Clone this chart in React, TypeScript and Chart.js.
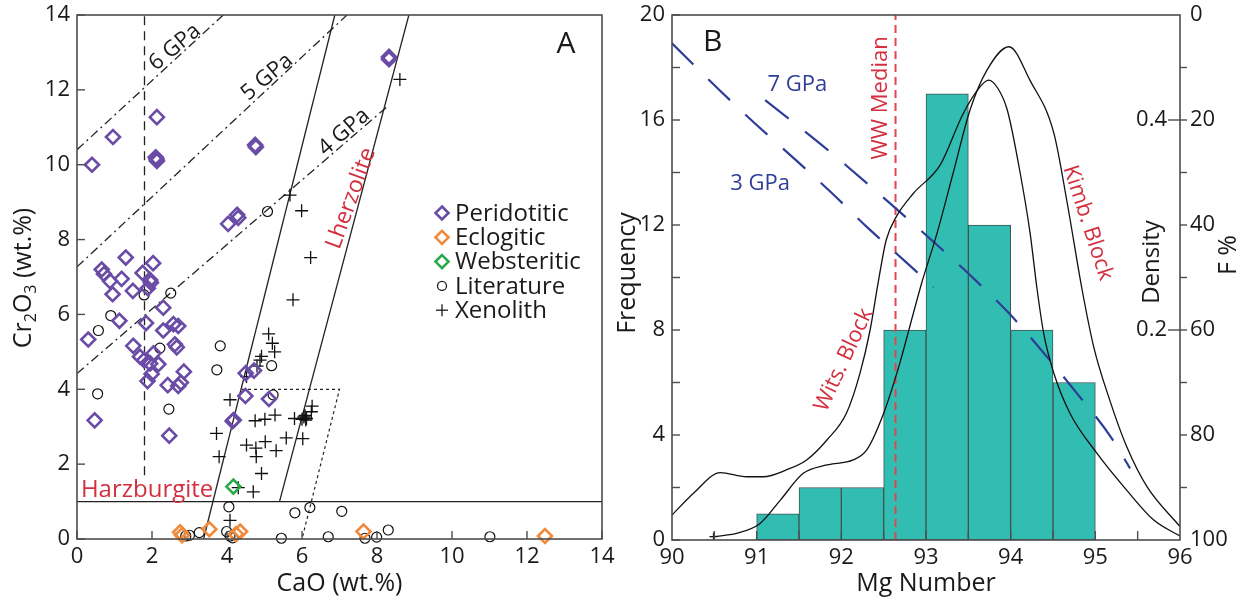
import React, { useEffect, useRef } from 'react';
import { Chart, registerables } from 'chart.js';

Chart.register(...registerables);

const FONT = '"Open Sans", "Noto Sans", sans-serif';
const INK = '#1a1a1a';
const FRAME = '#4d4d4d';
const RED = '#d42f3f';
const BLUE = '#2e3d97';
const PURPLE = '#6a4ca6';
const ORANGE = '#f08a3a';
const GREEN = '#2aa84a';
const TEAL = '#32bdb3';

// ---------- Panel A: garnet CaO vs Cr2O3 ----------
type P = [number, number];

const peridotitic: P[] = [
  [0.4, 10.0], [0.96, 10.74], [2.13, 11.27], [2.1, 10.2], [2.13, 10.1], [2.12, 10.15],
  [4.75, 10.53], [4.77, 10.47], [8.32, 12.88], [8.32, 12.82],
  [4.03, 8.42], [4.27, 8.66], [4.3, 8.58],
  [1.3, 7.52], [2.03, 7.37], [0.66, 7.2], [0.72, 7.08], [0.88, 6.89], [1.19, 6.95],
  [1.75, 7.11], [1.95, 6.92], [1.97, 6.85], [1.89, 6.7], [1.49, 6.63], [0.95, 6.54],
  [2.3, 6.18], [1.84, 5.77], [1.13, 5.83], [0.3, 5.33], [2.3, 5.57], [2.57, 5.74],
  [2.7, 5.69], [2.61, 5.2], [2.66, 5.12], [1.5, 5.16], [1.68, 4.87], [1.79, 4.78],
  [2.04, 4.96], [1.95, 4.69], [2.17, 4.67], [1.99, 4.41], [1.88, 4.22], [2.42, 4.11],
  [2.85, 4.47], [2.7, 4.09], [2.77, 4.18], [0.47, 3.17], [2.46, 2.76],
  [4.49, 3.82], [5.12, 3.74], [4.15, 3.15], [4.18, 3.18], [4.5, 4.43], [4.72, 4.5],
];

const eclogitic: P[] = [
  [2.75, 0.18], [2.8, 0.1], [3.53, 0.26], [4.24, 0.13], [4.35, 0.2], [7.64, 0.2], [12.48, 0.08],
];

const websteritic: P[] = [[4.17, 1.4]];

const literature: P[] = [
  [5.08, 8.75], [2.5, 6.57], [1.79, 6.52], [0.9, 5.97], [0.57, 5.57], [2.21, 5.1],
  [3.82, 5.16], [3.73, 4.52], [0.55, 3.88], [2.45, 3.47], [5.19, 4.63], [5.23, 3.85],
  [4.05, 0.86], [3.26, 0.17], [2.9, 0.08], [3.0, 0.1], [3.99, 0.2], [4.08, 0.08],
  [4.15, 0.03], [5.45, 0.02], [5.81, 0.7], [6.21, 0.84], [7.06, 0.74], [6.7, 0.06],
  [7.68, 0.02], [7.99, 0.05], [8.3, 0.24], [11.01, 0.06],
];

const xenolith: P[] = [
  [8.61, 12.28], [5.68, 9.19], [5.99, 8.77], [6.23, 7.52], [5.76, 6.39], [5.11, 5.48],
  [5.21, 5.23], [5.27, 5.0], [4.92, 4.88], [4.88, 4.78], [4.8, 4.62], [4.52, 4.34],
  [4.08, 3.72], [3.72, 2.82], [3.79, 2.2], [4.52, 2.51], [4.77, 2.43], [4.78, 2.2],
  [5.02, 2.6], [5.31, 2.36], [5.58, 2.7], [4.92, 1.75], [4.7, 1.26], [4.3, 1.37],
  [4.08, 0.5], [4.75, 3.16], [5.01, 3.2], [5.28, 3.31], [5.8, 3.22], [6.0, 3.2],
  [6.05, 3.26], [6.1, 3.18], [6.08, 3.3], [6.12, 3.22], [6.27, 3.55], [6.25, 3.4],
  [6.02, 2.68],
];

// classification lines and isobars
const harzLimit: P[] = [[0, 1], [14, 1]];
const lherzLine: P[] = [[3.375, 0], [6.875, 14]];
const wehrLine: P[] = [[5.4, 1], [8.85, 14]];
const caoCut: P[] = [[1.8, 1.7], [1.8, 14]];
const fieldBox: P[] = [[4.4, 4], [7.0, 4], [6.0, 0]];
const iso6: P[] = [[0, 10.4], [3.9, 14]];
const iso5: P[] = [[0, 7.27], [7.2, 14]];
const iso4: P[] = [[0, 4.42], [8.27, 11.55]];

const caoTicks = [0, 2, 4, 6, 8, 10, 12, 14];
const crTicks = [0, 2, 4, 6, 8, 10, 12, 14];

// ---------- Panel B: Mg number histogram ----------
const binCenters = [91.25, 91.75, 92.25, 92.75, 93.25, 93.75, 94.25, 94.75];
const binCounts = [1, 2, 2, 8, 17, 12, 8, 6];

const witsCurve: P[] = [
  [90.0, 0.95], [90.26, 1.8], [90.57, 2.57], [90.88, 2.41], [91.08, 2.41], [91.35, 2.67],
  [91.59, 3.05], [91.83, 3.81], [92.06, 4.83], [92.22, 6.35], [92.34, 8.0], [92.44, 9.9],
  [92.53, 11.43], [92.65, 12.32], [92.85, 13.2], [93.17, 14.3], [93.44, 16.25],
  [93.64, 17.27], [93.74, 17.52], [93.85, 17.2], [93.96, 16.38], [94.1, 14.2],
  [94.23, 11.68], [94.31, 9.6], [94.39, 7.87], [94.51, 6.35], [94.7, 4.83],
  [95.02, 3.3], [95.37, 1.9], [95.69, 0.76], [96.0, 0.15],
];

const kimbCurve: P[] = [
  [90.49, 0.13], [90.76, 0.25], [91.04, 0.63], [91.28, 1.52], [91.55, 2.54], [91.83, 2.86],
  [92.14, 3.05], [92.3, 3.43], [92.5, 4.83], [92.69, 6.73], [92.85, 8.63], [92.95, 9.8],
  [93.13, 11.68], [93.32, 13.97], [93.52, 16.38], [93.72, 17.9], [93.98, 18.79],
  [94.23, 17.5], [94.51, 15.5], [94.67, 12.8], [94.84, 9.6], [94.98, 7.37],
  [95.17, 5.33], [95.37, 3.56], [95.61, 2.03], [96.0, 0.51],
];

const gpa7: P[] = [
  [91.1, 16.76], [91.91, 14.67], [92.64, 12.64], [93.11, 11.3], [93.56, 9.97],
  [94.0, 8.57], [94.41, 7.05], [94.8, 5.52], [95.18, 3.94], [95.41, 2.73],
];
const gpa3: P[] = [
  [90.0, 18.92], [90.55, 17.17], [91.0, 15.81], [91.44, 14.54], [91.89, 13.21],
  [92.32, 11.87], [92.78, 10.54], [93.09, 9.63],
];
const wwMedian = 92.64;

const freqMinorTicks = [0, 2, 4, 6, 8, 10, 12, 14, 16, 18, 20];
const mgMinorTicks = [90.5, 91, 91.5, 92, 92.5, 93, 93.5, 94, 94.5, 95, 95.5];
const fTicks = [10, 20, 30, 40, 50, 60, 70, 80, 90];
const densityTicks = [0.2, 0.4];
const countsPerDensity = 40;

const xy = (a: P[]) => a.map(([x, y]) => ({ x, y }));

function text(ctx: CanvasRenderingContext2D, s: string, x: number, y: number, size: number,
  color: string, rotDeg = 0, align: CanvasTextAlign = 'center') {
  ctx.save();
  ctx.translate(x, y);
  ctx.rotate((rotDeg * Math.PI) / 180);
  ctx.font = `${size}px ${FONT}`;
  ctx.fillStyle = color;
  ctx.textAlign = align;
  ctx.textBaseline = 'middle';
  ctx.fillText(s, 0, 0);
  ctx.restore();
}

function richText(ctx: CanvasRenderingContext2D, parts: { t: string; size: number; dy: number }[],
  x: number, y: number, rotDeg: number, color: string) {
  ctx.save();
  ctx.translate(x, y);
  ctx.rotate((rotDeg * Math.PI) / 180);
  ctx.fillStyle = color;
  ctx.textAlign = 'left';
  ctx.textBaseline = 'alphabetic';
  const widths = parts.map((p) => {
    ctx.font = `${p.size}px ${FONT}`;
    return ctx.measureText(p.t).width;
  });
  const total = widths.reduce((a, b) => a + b, 0);
  let cx = -total / 2;
  parts.forEach((p, i) => {
    ctx.font = `${p.size}px ${FONT}`;
    ctx.fillText(p.t, cx, 9 + p.dy);
    cx += widths[i];
  });
  ctx.restore();
}

function diamond(ctx: CanvasRenderingContext2D, x: number, y: number, r: number, color: string) {
  ctx.save();
  ctx.beginPath();
  ctx.moveTo(x, y - r);
  ctx.lineTo(x + r, y);
  ctx.lineTo(x, y + r);
  ctx.lineTo(x - r, y);
  ctx.closePath();
  ctx.strokeStyle = color;
  ctx.lineWidth = 2.6;
  ctx.stroke();
  ctx.restore();
}

function seg(ctx: CanvasRenderingContext2D, x1: number, y1: number, x2: number, y2: number) {
  ctx.beginPath();
  ctx.moveTo(x1, y1);
  ctx.lineTo(x2, y2);
  ctx.stroke();
}

// keep the plot frame exactly where the layout padding puts it
function fixAxis(size: number, horizontal: boolean) {
  return (s: any) => {
    if (horizontal) s.height = size; else s.width = size;
    s.paddingTop = 0;
    s.paddingBottom = 0;
    s.paddingLeft = 0;
    s.paddingRight = 0;
  };
}

const axisFont = { family: FONT, size: 22 };

const panelADecor = {
  id: 'panelADecor',
  afterDraw(chart: any) {
    const { ctx, chartArea: a, scales } = chart;
    const sx = scales.x;
    const sy = scales.y;
    ctx.save();
    ctx.strokeStyle = FRAME;
    ctx.lineWidth = 1.6;
    ctx.strokeRect(a.left, a.top, a.right - a.left, a.bottom - a.top);
    ctx.lineWidth = 1.4;
    caoTicks.forEach((v) => {
      const px = sx.getPixelForValue(v);
      seg(ctx, px, a.bottom, px, a.bottom - 8);
    });
    crTicks.forEach((v) => {
      const py = sy.getPixelForValue(v);
      seg(ctx, a.left, py, a.left + 8, py);
    });
    ctx.restore();

    const X = (v: number) => sx.getPixelForValue(v);
    const Y = (v: number) => sy.getPixelForValue(v);

    text(ctx, 'A', X(13.04), Y(13.2), 30, INK);
    text(ctx, '6 GPa', X(2.61), Y(13.14), 22, INK, -40);
    text(ctx, '5 GPa', X(5.07), Y(12.34), 22, INK, -40);
    text(ctx, '4 GPa', X(7.12), Y(10.87), 22, INK, -41);
    text(ctx, 'Lherzolite', X(7.31), Y(9.1), 23, RED, -70);
    text(ctx, 'Harzburgite', X(1.87), Y(1.31), 24, RED);

    // legend
    const lx = 442;
    const ly0 = 213;
    const dy = 24.3;
    const items = ['Peridotitic', 'Eclogitic', 'Websteritic', 'Literature', 'Xenolith'];
    items.forEach((label, i) => {
      const yy = ly0 + i * dy;
      ctx.save();
      if (i === 0) diamond(ctx, lx, yy, 6.5, PURPLE);
      if (i === 1) diamond(ctx, lx, yy, 6.5, ORANGE);
      if (i === 2) diamond(ctx, lx, yy, 6.5, GREEN);
      if (i === 3) {
        ctx.strokeStyle = INK;
        ctx.lineWidth = 1.3;
        ctx.beginPath();
        ctx.arc(lx, yy, 4.5, 0, Math.PI * 2);
        ctx.stroke();
      }
      if (i === 4) {
        ctx.strokeStyle = INK;
        ctx.lineWidth = 1.3;
        seg(ctx, lx - 6, yy, lx + 6, yy);
        seg(ctx, lx, yy - 6, lx, yy + 6);
      }
      ctx.restore();
      text(ctx, label, lx + 13, yy + 1, 24, INK, 0, 'left');
    });

    // axis titles
    text(ctx, 'CaO (wt.%)', (a.left + a.right) / 2, 584, 25, INK);
    richText(ctx, [
      { t: 'Cr', size: 25, dy: 0 },
      { t: '2', size: 16, dy: 5 },
      { t: 'O', size: 25, dy: 0 },
      { t: '3', size: 16, dy: 5 },
      { t: ' (wt.%)', size: 25, dy: 0 },
    ], 22, 278, -90, INK);
  },
};

const panelBDecor = {
  id: 'panelBDecor',
  afterDraw(chart: any) {
    const { ctx, chartArea: a, scales } = chart;
    const sx = scales.x;
    const sy = scales.y;
    const sf = scales.f;
    ctx.save();
    ctx.strokeStyle = FRAME;
    ctx.lineWidth = 1.6;
    ctx.strokeRect(a.left, a.top, a.right - a.left, a.bottom - a.top);
    ctx.lineWidth = 1.4;
    freqMinorTicks.forEach((v) => {
      const py = sy.getPixelForValue(v);
      seg(ctx, a.left, py, a.left + 8, py);
    });
    mgMinorTicks.forEach((v) => {
      const px = sx.getPixelForValue(v);
      seg(ctx, px, a.bottom, px, a.bottom - 9);
    });
    fTicks.forEach((v) => {
      const py = sf.getPixelForValue(v);
      seg(ctx, a.right, py, a.right + 7, py);
    });
    densityTicks.forEach((d) => {
      const py = sy.getPixelForValue(d * countsPerDensity);
      seg(ctx, a.right - 12, py, a.right, py);
      text(ctx, String(d), a.right - 13, py, 22, INK, 0, 'right');
    });
    ctx.restore();

    const X = (v: number) => sx.getPixelForValue(v);
    const Y = (v: number) => sy.getPixelForValue(v);

    text(ctx, 'B', X(90.48), Y(18.97), 30, INK);
    text(ctx, '7 GPa', X(91.48), Y(17.33), 22, BLUE);
    text(ctx, '3 GPa', X(91.04), Y(13.56), 22, BLUE);
    text(ctx, 'WW Median', X(92.46), Y(16.84), 22, RED, -90);
    text(ctx, 'Wits. Block', X(92.03), Y(6.86), 22, RED, -65);
    text(ctx, 'Kimb. Block', X(94.91), Y(12.08), 22, RED, 72);

    text(ctx, 'Mg Number', (a.left + a.right) / 2, 584, 25, INK);
    text(ctx, 'Frequency', a.left - 44, 273, 25, INK, -90);
    text(ctx, 'Density', a.right - 28, 262, 24, INK, -90);
    text(ctx, 'F %', a.right + 49, 255, 25, INK, -90);
  },
};

function lineSet(data: P[], color: string, width: number, dash: number[] = []) {
  return {
    type: 'line' as const,
    data: xy(data),
    showLine: true,
    borderColor: color,
    borderWidth: width,
    borderDash: dash,
    pointRadius: 0,
    pointHoverRadius: 0,
    fill: false,
    order: 10,
  };
}

function pointSet(label: string, data: P[], style: string, radius: number, color: string, width: number, order: number) {
  return {
    label,
    data: xy(data),
    pointStyle: style,
    pointRadius: radius,
    pointHoverRadius: radius,
    borderColor: color,
    backgroundColor: 'rgba(0,0,0,0)',
    borderWidth: width,
    showLine: false,
    clip: false,
    order,
  };
}

export default function App() {
  const leftRef = useRef<HTMLCanvasElement>(null);
  const rightRef = useRef<HTMLCanvasElement>(null);

  useEffect(() => {
    const left = new Chart(leftRef.current!, {
      type: 'scatter',
      data: {
        datasets: [
          lineSet(harzLimit, '#222', 1.3),
          lineSet(lherzLine, '#222', 1.3),
          lineSet(wehrLine, '#222', 1.3),
          lineSet(caoCut, '#222', 1.3, [9, 6]),
          lineSet(fieldBox, '#222', 1.2, [3, 3]),
          lineSet(iso6, '#222', 1.3, [9, 4, 2, 4]),
          lineSet(iso5, '#222', 1.3, [9, 4, 2, 4]),
          lineSet(iso4, '#222', 1.3, [9, 4, 2, 4]),
          pointSet('Literature', literature, 'circle', 5, '#111', 1.2, 4),
          pointSet('Xenolith', xenolith, 'cross', 6.5, '#111', 1.3, 3),
          pointSet('Peridotitic', peridotitic, 'rectRot', 7, PURPLE, 2.6, 1),
          pointSet('Eclogitic', eclogitic, 'rectRot', 7, ORANGE, 2.6, 1),
          pointSet('Websteritic', websteritic, 'rectRot', 7, GREEN, 2.6, 1),
        ] as any,
      },
      options: {
        animation: false,
        responsive: false,
        devicePixelRatio: 1,
        events: [],
        layout: { autoPadding: false, padding: { top: 15, right: 18, left: 0, bottom: 0 } },
        plugins: { legend: { display: false }, tooltip: { enabled: false } },
        scales: {
          x: {
            type: 'linear', min: 0, max: 14,
            ticks: { stepSize: 2, font: axisFont, color: INK, padding: 5, maxRotation: 0 },
            grid: { display: false, drawTicks: false },
            border: { display: false },
            afterFit: fixAxis(65, true),
          },
          y: {
            type: 'linear', min: 0, max: 14,
            ticks: { stepSize: 2, font: axisFont, color: INK, padding: 7 },
            grid: { display: false, drawTicks: false },
            border: { display: false },
            afterFit: fixAxis(77, false),
          },
        },
      } as any,
      plugins: [panelADecor],
    });

    const right = new Chart(rightRef.current!, {
      type: 'bar',
      data: {
        datasets: [
          { ...lineSet(witsCurve, '#111', 1.3), cubicInterpolationMode: 'monotone', order: 1 },
          {
            ...lineSet(kimbCurve, '#111', 1.3), cubicInterpolationMode: 'monotone', order: 1,
            pointStyle: 'cross',
            pointRadius: (c: any) => (c.dataIndex === 0 ? 4 : 0),
            pointBorderColor: '#111', pointBorderWidth: 1.2,
          },
          { ...lineSet(gpa7, BLUE, 2.2, [30, 21]), cubicInterpolationMode: 'monotone', order: 2 },
          { ...lineSet(gpa3, BLUE, 2.2, [30, 21]), cubicInterpolationMode: 'monotone', order: 2 },
          { ...lineSet([[wwMedian, 0], [wwMedian, 20]], '#e0474c', 2, [8, 5]), order: 2 },
          {
            type: 'bar',
            label: 'Frequency',
            data: binCenters.map((x, i) => ({ x, y: binCounts[i] })),
            backgroundColor: TEAL,
            borderColor: '#3e5553',
            borderWidth: 1,
            borderSkipped: false,
            barPercentage: 1,
            categoryPercentage: 1,
            order: 20,
          },
        ] as any,
      },
      options: {
        animation: false,
        responsive: false,
        devicePixelRatio: 1,
        events: [],
        layout: { autoPadding: false, padding: { top: 15, right: 0, left: 0, bottom: 0 } },
        plugins: { legend: { display: false }, tooltip: { enabled: false } },
        scales: {
          x: {
            type: 'linear', min: 90, max: 96, offset: false,
            ticks: { stepSize: 1, font: axisFont, color: INK, padding: 5, maxRotation: 0 },
            grid: { display: false, drawTicks: false, offset: false },
            border: { display: false },
            afterFit: fixAxis(64, true),
          },
          y: {
            type: 'linear', position: 'left', min: 0, max: 20,
            ticks: { stepSize: 4, font: axisFont, color: INK, padding: 7 },
            grid: { display: false, drawTicks: false },
            border: { display: false },
            afterFit: fixAxis(72, false),
          },
          f: {
            type: 'linear', position: 'right', min: 0, max: 100, reverse: true,
            ticks: { stepSize: 20, font: axisFont, color: INK, padding: 10 },
            grid: { display: false, drawTicks: false },
            border: { display: false },
            afterFit: fixAxis(64, false),
          },
        },
      } as any,
      plugins: [panelBDecor],
    });

    return () => {
      left.destroy();
      right.destroy();
    };
  }, []);

  return (
    <div style={{ position: 'fixed', left: 0, top: 0, width: 1244, height: 604, background: '#fff' }}>
      <canvas ref={leftRef} width={620} height={604}
        style={{ position: 'absolute', left: 0, top: 0, width: 620, height: 604 }} />
      <canvas ref={rightRef} width={644} height={604}
        style={{ position: 'absolute', left: 600, top: 0, width: 644, height: 604 }} />
    </div>
  );
}
